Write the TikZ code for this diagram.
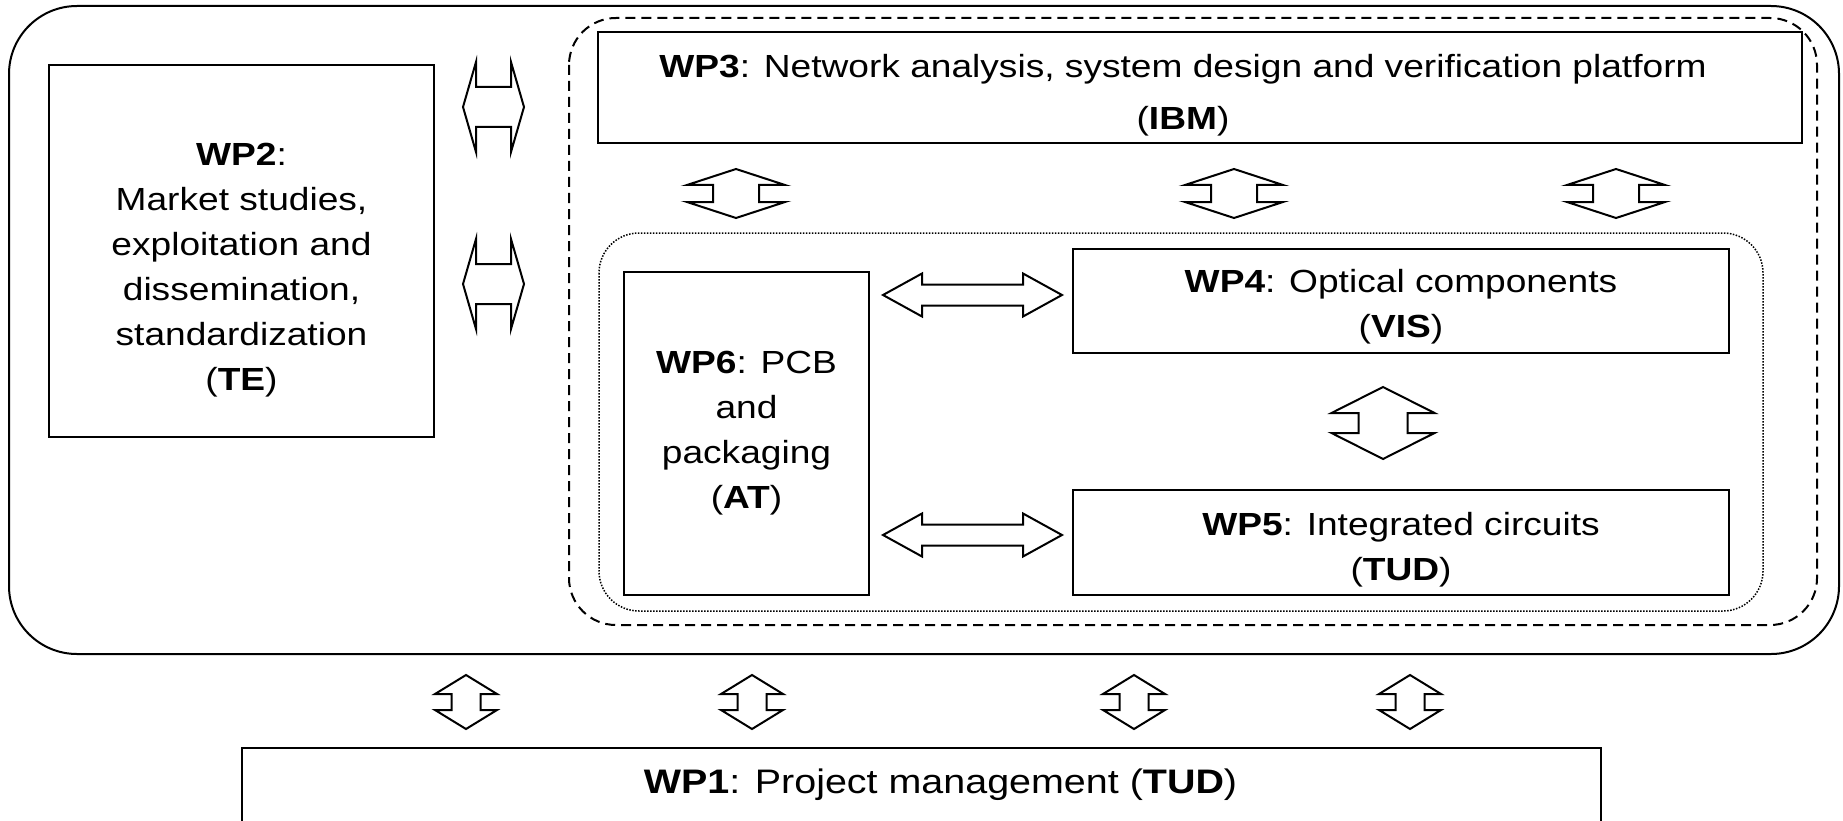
\documentclass[tikz,border=0pt]{standalone}
\usepackage{fontspec}
\setmainfont{Liberation Sans}[FakeStretch=1.16]
\usetikzlibrary{calc}
\usetikzlibrary{positioning}
% hollow double arrow between two tips: #3 head length, #4 head half width, #5 shaft half width
\newcommand{\blockarrow}[5]{\draw[line width=2pt] (#1)
					-- ($(#1)!#3!(#2)!#4!90:(#2)$)
					-- ($(#1)!#3!(#2)!#5!90:(#2)$)
					-- ($(#2)!#3!(#1)!#5!-90:(#1)$)
					-- ($(#2)!#3!(#1)!#4!-90:(#1)$)
					-- (#2)
					-- ($(#2)!#3!(#1)!#4!90:(#1)$)
					-- ($(#2)!#3!(#1)!#5!90:(#1)$)
					-- ($(#1)!#3!(#2)!#5!-90:(#2)$)
					-- ($(#1)!#3!(#2)!#4!-90:(#2)$)
					-- cycle;}
% pushes a box text down: tall strut on its first line
\newcommand{\topgap}[1]{\rule{0pt}{#1}}
\tikzset{wpbox/.style={draw, line width=2pt, align=center, inner sep=0pt,
		font=\fontsize{32}{45}\selectfont}}

\begin{document}
\begin{tikzpicture}[x=1pt, y=-1pt]
				\useasboundingbox (0,0) rectangle (1843,821);
				
				% frames
				\draw[line width=2pt, rounded corners=68pt] (9,6) rectangle (1839,654);
				\draw[line width=2pt, dash pattern=on 10pt off 6pt, rounded corners=47pt] (569,18) rectangle (1817,625);
				\draw[line width=1.5pt, dash pattern=on 1.5pt off 1.5pt, rounded corners=40pt] (599,233) rectangle (1763,611);
				
				% work packages
				\node[wpbox, minimum width=385pt, minimum height=372pt] (wp2) at (241.5,251)
					{\topgap{60pt}\textbf{WP2}:\\Market studies,\\exploitation and\\dissemination,\\standardization\\(\textbf{TE})};
				\node[wpbox, minimum width=1204pt, minimum height=111pt] (wp3) at (1200,87.5)
					{\topgap{39pt}\textbf{WP3}: Network analysis, system design and verification platform\hspace*{34pt}\\[7pt](\textbf{IBM})\hspace*{34pt}};
				\node[wpbox, minimum width=245pt, minimum height=323pt] (wp6) at (746.5,433.5)
					{\textbf{WP6}: PCB\\and\\packaging\\(\textbf{AT})};
				\node[wpbox, minimum width=656pt, minimum height=104pt] (wp4) at (1401,301)
					{\topgap{35pt}\textbf{WP4}: Optical components\\(\textbf{VIS})};
				\node[wpbox, minimum width=656pt, minimum height=105pt] (wp5) at (1401,542.5)
					{\topgap{37pt}\textbf{WP5}: Integrated circuits\\(\textbf{TUD})};
				\node[wpbox, anchor=north, minimum width=1359pt, text height=45pt, text depth=60pt,
					font=\fontsize{34}{45}\selectfont] (wp1) at (921.5,747)
					{\hspace*{38pt}\textbf{WP1}: Project management (\textbf{TUD})};
				
				% WP2 to the rest
				\foreach \y [count=\i] in {107,284} {
					\coordinate (mk\i l) at (463,\y);
					\coordinate (mk\i r) at (524,\y);
					\blockarrow{mk\i l}{mk\i r}{13pt}{45pt}{20pt}
				}
				
				% WP3 to the hardware group
				\foreach \x [count=\i] in {736,1234,1616} {
					\coordinate (hw\i t) at (\x,169);
					\coordinate (hw\i b) at (\x,218);
					\blockarrow{hw\i t}{hw\i b}{16pt}{49pt}{23pt}
				}
				
				% WP6 to WP4 and WP5
				\foreach \y [count=\i] in {295,535} {
					\coordinate (pk\i l) at (883,\y);
					\coordinate (pk\i r) at (1062,\y);
					\blockarrow{pk\i l}{pk\i r}{39pt}{21.5pt}{10.5pt}
				}
				
				% WP4 to WP5
				\coordinate (oc) at (1383,387);
				\coordinate (ic) at (1383,459);
				\blockarrow{oc}{ic}{26pt}{51.5pt}{24.5pt}
				
				% management
				\foreach \x [count=\i] in {466,752,1134,1410} {
					\coordinate (pm\i t) at (\x,675);
					\coordinate (pm\i b) at (\x,729);
					\blockarrow{pm\i t}{pm\i b}{19pt}{31pt}{14.5pt}
				}
				
\end{tikzpicture}
\end{document}
